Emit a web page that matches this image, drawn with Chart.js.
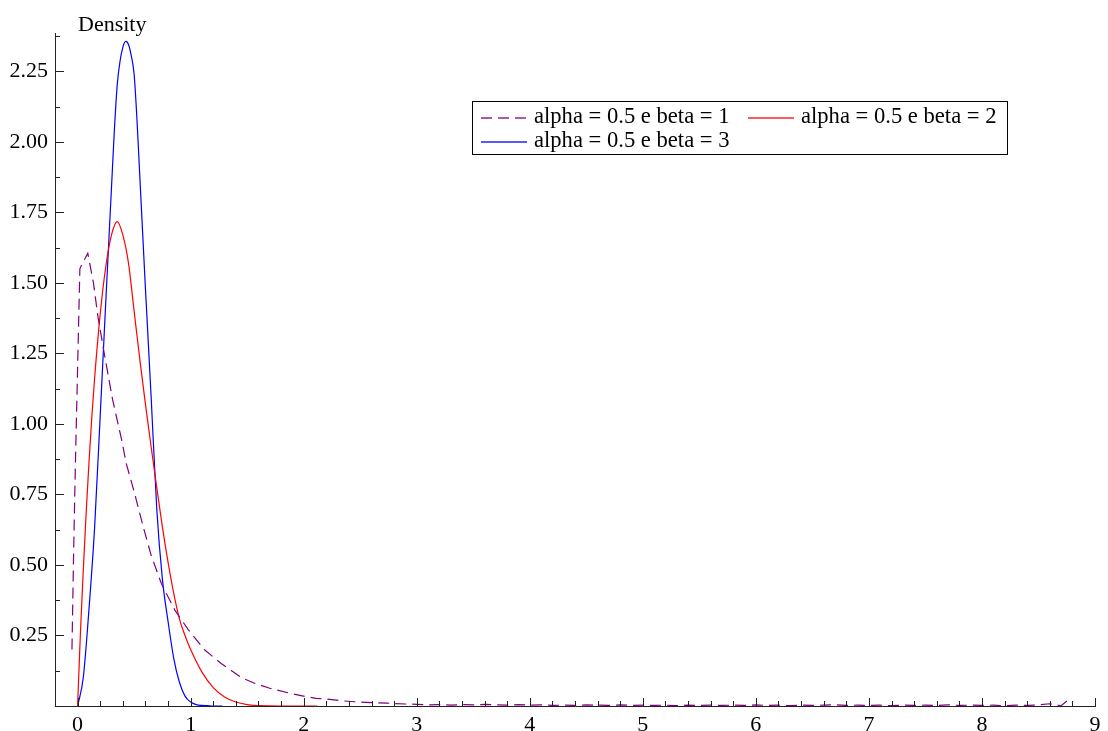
<!DOCTYPE html>
<html>
<head>
<meta charset="utf-8">
<script src="https://cdn.jsdelivr.net/npm/chart.js@4.4.1/dist/chart.umd.min.js"></script>
<style>
  html, body { margin: 0; padding: 0; background: #fff; }
  canvas { display: block; }
</style>
</head>
<body>
<canvas id="c" width="1108" height="731"></canvas>
<script>
// ---- data ----
const seriesLabels = ["alpha = 0.5 e beta = 1", "alpha = 0.5 e beta = 2", "alpha = 0.5 e beta = 3"];
const seriesColors = ["#800080", "#ff0000", "#0000ff"];
const yAxisTitle = "Density";
const xTickValues = [0, 1, 2, 3, 4, 5, 6, 7, 8, 9];
const yTickValues = [0.25, 0.5, 0.75, 1.0, 1.25, 1.5, 1.75, 2.0, 2.25];

const purpleX = [-0.05, -0.035, -0.02, 0, 0.02, 0.05, 0.09, 0.14, 0.18, 0.24, 0.31, 0.39, 0.43, 0.5, 0.58, 0.65, 0.74, 0.86, 0.98, 1.12, 1.27, 1.45, 1.57, 1.7, 1.88, 2.02, 2.11, 2.2, 2.32, 2.45, 2.6, 2.74, 2.9,
  3.0, 3.1, 3.2, 3.3, 3.4, 3.5, 3.6, 3.7, 3.8, 3.9, 4.0, 4.1, 4.2, 4.3, 4.4, 4.5, 4.6, 4.7, 4.8, 4.9, 5.0, 5.1, 5.2, 5.3, 5.4, 5.5, 5.6, 5.7, 5.8, 5.9,
  6.0, 6.1, 6.2, 6.3, 6.4, 6.5, 6.6, 6.7, 6.8, 6.9, 7.0, 7.1, 7.2, 7.3, 7.4, 7.5, 7.6, 7.7, 7.8, 7.9, 8.0, 8.1, 8.2, 8.3, 8.4, 8.5, 8.6, 8.7, 8.79];
const purpleY = [0.2, 0.55, 0.85, 1.2, 1.55, 1.575, 1.605, 1.5, 1.38, 1.24, 1.085, 0.943, 0.86, 0.76, 0.636, 0.535, 0.435, 0.34, 0.27, 0.2, 0.151, 0.1, 0.08, 0.063, 0.045, 0.033, 0.027, 0.025, 0.019, 0.015, 0.012, 0.01, 0.007,
  0.006, 0.004, 0.005, 0.003, 0.005, 0.004, 0.006, 0.004, 0.003, 0.005, 0.003, 0.004, 0.002, 0.003, 0.002, 0.004, 0.003, 0.002, 0.004, 0.002, 0.003, 0.002, 0.003, 0.001, 0.003, 0.002, 0.003, 0.002, 0.003, 0.002,
  0.004, 0.002, 0.003, 0.001, 0.003, 0.002, 0.003, 0.004, 0.002, 0.003, 0.002, 0.003, 0.001, 0.003, 0.002, 0.003, 0.002, 0.004, 0.002, 0.003, 0.002, 0.003, 0.001, 0.003, 0.002, 0.004, 0.008, 0.001, 0.03];

const redX = [0, 0.025, 0.05, 0.075, 0.1, 0.125, 0.15, 0.2, 0.25, 0.3, 0.35, 0.4, 0.45, 0.5, 0.55, 0.6, 0.65, 0.7, 0.75, 0.8, 0.85, 0.9, 0.95, 1.0, 1.1, 1.2, 1.3, 1.4, 1.5, 1.6, 1.8, 2.12];
const redY = [0, 0.26, 0.48, 0.68, 0.86, 1.02, 1.16, 1.39, 1.56, 1.67, 1.717, 1.67, 1.57, 1.40, 1.23, 1.07, 0.92, 0.775, 0.635, 0.51, 0.40, 0.31, 0.25, 0.20, 0.12, 0.065, 0.032, 0.014, 0.005, 0.001, 0, 0];

const blueX = [0, 0.05, 0.1, 0.15, 0.2, 0.25, 0.3, 0.325, 0.35, 0.375, 0.4, 0.425, 0.45, 0.475, 0.5, 0.525, 0.55, 0.575, 0.6, 0.65, 0.7, 0.75, 0.8, 0.85, 0.9, 0.95, 1.0, 1.05, 1.1, 1.15, 1.2, 1.28];
const blueY = [0, 0.10, 0.34, 0.63, 1.03, 1.44, 1.84, 2.04, 2.20, 2.285, 2.335, 2.356, 2.345, 2.305, 2.24, 2.08, 1.88, 1.68, 1.48, 1.10, 0.70, 0.45, 0.30, 0.17, 0.085, 0.035, 0.014, 0.005, 0.002, 0.001, 0, 0];

const toPoints = (xs, ys) => xs.map((x, i) => ({ x: x, y: ys[i] }));

const FONT = "'Liberation Serif', 'DejaVu Serif', serif";

const axisDecor = {
  id: 'axisDecor',
  afterDraw(chart) {
    const { ctx, chartArea: a, scales: { x, y } } = chart;
    ctx.save();
    ctx.strokeStyle = '#222';
    ctx.lineWidth = 1;
    ctx.beginPath();
    for (let i = 0; i <= 45; i++) {
      const v = i * 0.2;
      if (v > x.max + 1e-9) break;
      const px = Math.round(x.getPixelForValue(v)) + 0.5;
      const major = Math.abs(v - Math.round(v)) < 1e-6;
      ctx.moveTo(px, a.bottom);
      ctx.lineTo(px, a.bottom - (major ? 8 : 5));
    }
    for (let i = 1; i <= 19; i++) {
      const v = i * 0.125;
      if (v > y.max) break;
      const py = Math.round(y.getPixelForValue(v)) + 0.5;
      ctx.moveTo(a.left, py);
      ctx.lineTo(a.left + (i % 2 === 0 ? 9 : 5), py);
    }
    ctx.stroke();
    // y axis title
    ctx.fillStyle = '#000';
    ctx.font = "22px " + FONT;
    ctx.textAlign = 'left';
    ctx.textBaseline = 'alphabetic';
    ctx.fillText(yAxisTitle, a.left + 23, 31);
    ctx.restore();
  }
};

const boxLegend = {
  id: 'boxLegend',
  afterDraw(chart) {
    const { ctx, chartArea: a } = chart;
    ctx.save();
    const bx = Math.round(a.left + 417), by = 101, bw = 535, bh = 53;
    ctx.fillStyle = '#000';
    ctx.fillRect(bx, by, bw, 1);
    ctx.fillRect(bx, by + bh, bw + 1, 1);
    ctx.fillRect(bx, by, 1, bh);
    ctx.fillRect(bx + bw, by, 1, bh);
    const slots = [
      { lx: bx + 9, ly: 117 },
      { lx: bx + 276, ly: 117 },
      { lx: bx + 9, ly: 141 }
    ];
    ctx.font = "22.6px " + FONT;
    ctx.textAlign = 'left';
    ctx.textBaseline = 'middle';
    seriesLabels.forEach((label, i) => {
      const s = slots[i];
      ctx.globalAlpha = 0.65;
      ctx.fillStyle = seriesColors[i];
      if (i === 0) {
        for (let d = 0; d < 46; d += 17) ctx.fillRect(s.lx + d, s.ly, Math.min(11, 46 - d), 2);
      } else {
        ctx.fillRect(s.lx, s.ly, 46, 2);
      }
      ctx.globalAlpha = 1;
      ctx.fillStyle = '#000';
      ctx.fillText(label, s.lx + 53, s.ly);
    });
    ctx.restore();
  }
};

new Chart(document.getElementById('c'), {
  type: 'line',
  data: {
    datasets: [
      { label: seriesLabels[0], data: toPoints(purpleX, purpleY), borderColor: seriesColors[0], borderWidth: 1.2, borderDash: [11, 6], pointRadius: 0, tension: 0, fill: false },
      { label: seriesLabels[1], data: toPoints(redX, redY), borderColor: seriesColors[1], borderWidth: 1.2, pointRadius: 0, cubicInterpolationMode: 'monotone', fill: false },
      { label: seriesLabels[2], data: toPoints(blueX, blueY), borderColor: seriesColors[2], borderWidth: 1.2, pointRadius: 0, cubicInterpolationMode: 'monotone', fill: false }
    ]
  },
  options: {
    responsive: false,
    animation: false,
    devicePixelRatio: 1,
    layout: { padding: { top: 33, right: 13, left: 0, bottom: 0 } },
    plugins: { legend: { display: false }, tooltip: { enabled: false }, title: { display: false } },
    scales: {
      x: {
        type: 'linear', min: -0.2, max: 9,
        grid: { display: false, drawTicks: false },
        border: { display: true, color: '#222', width: 1 },
        ticks: {
          stepSize: 1, includeBounds: false, maxRotation: 0, autoSkip: false, padding: 6,
          color: '#000', font: { family: FONT, size: 22 },
          callback: (v) => xTickValues.some(t => Math.abs(t - v) < 1e-6) ? String(Math.round(v)) : ''
        },
        afterFit: (s) => { s.height = 25; }
      },
      y: {
        type: 'linear', min: 0, max: 2.386,
        grid: { display: false, drawTicks: false },
        border: { display: true, color: '#222', width: 1 },
        ticks: {
          stepSize: 0.25, includeBounds: false, autoSkip: false, padding: 7,
          color: '#000', font: { family: FONT, size: 22 },
          callback: (v) => yTickValues.some(t => Math.abs(t - v) < 1e-6) ? v.toFixed(2) : ''
        },
        afterFit: (s) => { s.width = 55; }
      }
    }
  },
  plugins: [axisDecor, boxLegend]
});
</script>
</body>
</html>
